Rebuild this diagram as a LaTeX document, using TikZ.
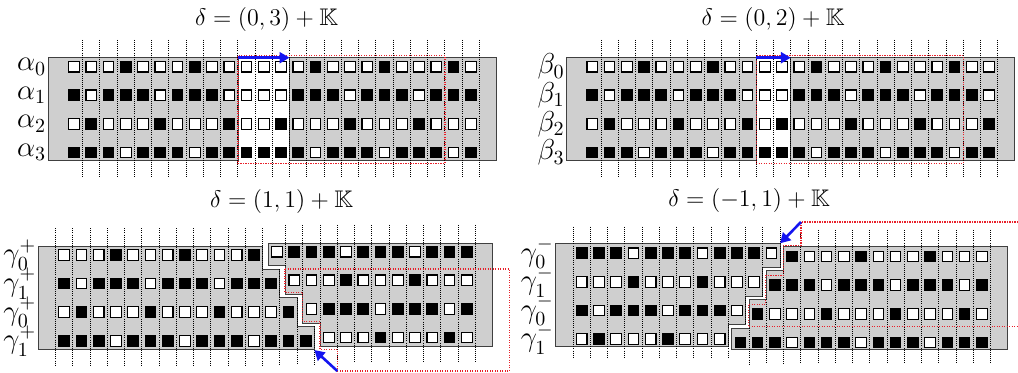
\documentclass[tikz,border=0pt]{standalone}
\usepackage{amsmath}
\usepackage{amssymb}
\usetikzlibrary{arrows.meta, positioning, calc}
\definecolor{cutred}{HTML}{E8202A}
\definecolor{moveblue}{HTML}{1414F0}

\begin{document}
\begin{tikzpicture}[
    x=0.5pt, y=-0.5pt,
    strip/.style={draw=black!75, line width=0.5pt, fill=black!19},
    guide/.style={black, line width=0.45pt, dash pattern=on 0.45pt off 0.6pt},
    c0/.style={rectangle, draw=black, fill=white, line width=0.55pt, minimum size=5.3pt, inner sep=0pt},
    c1/.style={c0, fill=black},
    cut/.style={draw=cutred, line width=0.55pt, dash pattern=on 0.55pt off 0.7pt},
    arrow/.style={-{Triangle[length=5pt, width=5.5pt]}, moveblue, line width=1.3pt},
    head/.style={font=\large},
    rowtag/.style={anchor=east, inner sep=0.5pt, font=\Large}
]
\useasboundingbox (0,0) rectangle (1018,373);

% Panel 1: alpha, delta = (0,3)
\node[head] (t-a) at (266.5,20) {$\delta=(0,3)+\mathbb{K}$};
\draw[strip] (48.3,57.7) rectangle (238,161);
\draw[strip] (289.5,57.7) rectangle (496.7,161);
\foreach \j in {0,...,23}
  \draw[guide] (82.6+17.25*\j,40) -- (82.6+17.25*\j,177);
\foreach \bits [count=\r from 0] in {
    {0,0,0,1,0,0,0,1,0,0,0,0,0,0,1,0,0,0,1,0,0,0,1,0},
    {1,0,1,1,1,0,1,1,1,0,0,0,0,1,1,1,0,1,1,1,0,1,1,1},
    {0,1,0,0,0,1,0,0,0,1,0,0,1,0,0,0,1,0,0,0,1,0,0,0},
    {1,1,1,0,1,1,1,0,1,1,1,1,1,1,0,1,1,1,0,1,1,1,0,1}}
  \foreach \b [count=\k from 0] in \bits
    \node[c\b] (a-\r-\k) at (74+17.25*\k,66.7+28.6*\r) {};
\draw[cut] (238,55.7) rectangle (445,163.3);
\coordinate (a-from) at (238,57.7);
\coordinate (a-to) at (289.5,57.7);
\draw[arrow] (a-from) -- (a-to);
\foreach \r in {0,...,3}
  \node[rowtag] (la-\r) at (47.5,66.7+28.6*\r) {$\alpha_{\r}$};

% Panel 2: beta, delta = (0,2)
\node[head] (t-b) at (773,20) {$\delta=(0,2)+\mathbb{K}$};
\draw[strip] (566.7,57.7) rectangle (756.3,161);
\draw[strip] (790.8,57.7) rectangle (1014.5,161);
\foreach \j in {0,...,23}
  \draw[guide] (601+17.25*\j,40) -- (601+17.25*\j,177);
\foreach \bits [count=\r from 0] in {
    {0,0,0,1,0,0,0,1,0,0,0,0,0,1,0,0,0,1,0,0,0,1,0,0},
    {1,0,1,1,1,0,1,1,1,0,0,0,1,1,1,0,1,1,1,0,1,1,1,0},
    {0,1,0,0,0,1,0,0,0,1,0,1,0,0,0,1,0,0,0,1,0,0,0,1},
    {1,1,1,0,1,1,1,0,1,1,1,1,1,0,1,1,1,0,1,1,1,0,1,1}}
  \foreach \b [count=\k from 0] in \bits
    \node[c\b] (b-\r-\k) at (592.3+17.25*\k,66.7+28.6*\r) {};
\draw[cut] (756.3,55.7) rectangle (963.3,163.3);
\coordinate (b-from) at (756.3,57.7);
\coordinate (b-to) at (790.8,57.7);
\draw[arrow] (b-from) -- (b-to);
\foreach \r in {0,...,3}
  \node[rowtag] (lb-\r) at (566,66.7+28.6*\r) {$\beta_{\r}$};

% Panel 3: gamma plus, delta = (1,1)
\node[head] (t-p) at (281.5,201.5) {$\delta=(1,1)+\mathbb{K}$};
\draw[strip] (38.3,246.7) -- (262.6,246.7) -- (262.6,269.3) -- (279.85,269.3)
  -- (279.85,297.9) -- (297.1,297.9) -- (297.1,326.5) -- (314.35,326.5)
  -- (314.35,350) -- (38.3,350) -- cycle;
\draw[strip] (268.4,243.4) -- (492.7,243.4) -- (492.7,346.7) -- (320.15,346.7)
  -- (320.15,323.2) -- (302.9,323.2) -- (302.9,294.6) -- (285.65,294.6)
  -- (285.65,266) -- (268.4,266) -- cycle;
\foreach \j in {0,...,12}
  \draw[guide] (55.6+17.25*\j,228.3) -- (55.6+17.25*\j,365);
\foreach \j/\y in {13/269.3,14/297.9,15/326.5}
  \draw[guide] (55.6+17.25*\j,\y) -- (55.6+17.25*\j,365);
\foreach \j/\y in {13/266,14/294.6,15/323.2}
  \draw[guide] (61.4+17.25*\j,225) -- (61.4+17.25*\j,\y);
\foreach \j in {16,...,24}
  \draw[guide] (61.4+17.25*\j,225) -- (61.4+17.25*\j,361.7);
\foreach \bits [count=\r from 0] in {
    {0,0,0,1,0,0,0,1,0,0,0,1,0,1,1,1,0,1,1,1,0,1,1,1},
    {1,0,1,1,1,0,1,1,1,0,1,1,1,0,0,0,1,0,0,0,1,0,0,0},
    {0,1,0,0,0,1,0,0,0,1,0,0,0,1,0,1,1,1,0,1,1,1,0,1},
    {1,1,1,0,1,1,1,0,1,1,1,0,1,1,1,0,0,0,1,0,0,0,1,0}}
  \foreach \b [count=\k from 0] in \bits {
    \pgfmathtruncatemacro\s{\k>=12+\r}
    \node[c\b] (p-\r-\k) at (64.2+17.25*\k+5.8*\s,255+28.6*\r-3.3*\s) {};
  }
\draw[cut] (285,269) -- (509.3,269) -- (509.3,371) -- (337.3,371) -- (337.3,349.5)
  -- (320,349.5) -- (320,321.7) -- (302.7,321.7) -- (302.7,292.3) -- (285,292.3) -- cycle;
\coordinate (p-from) at (337.3,371);
\coordinate (p-to) at (314.35,350);
\draw[arrow] (p-from) -- (p-to);
\foreach \r/\i in {0/0,1/1,2/0,3/1}
  \node[rowtag] (lp-\r) at (37.5,255+28.6*\r) {$\gamma_{\i}^{+}$};

% Panel 4: gamma minus, delta = (-1,1)
\node[head] (t-m) at (749,201) {$\delta=(-1,1)+\mathbb{K}$};
\draw[strip] (555.7,243.3) -- (780.1,243.3) -- (780.1,267.6) -- (762.85,267.6)
  -- (762.85,296.2) -- (745.6,296.2) -- (745.6,324.8) -- (728.35,324.8)
  -- (728.35,346.7) -- (555.7,346.7) -- cycle;
\draw[strip] (783.5,246.6) -- (1007.7,246.6) -- (1007.7,350) -- (731.75,350)
  -- (731.75,328.1) -- (749,328.1) -- (749,299.5) -- (766.25,299.5)
  -- (766.25,270.9) -- (783.5,270.9) -- cycle;
\foreach \j in {0,...,9}
  \draw[guide] (573.1+17.25*\j,226.7) -- (573.1+17.25*\j,358);
\foreach \j/\y in {10/324.8,11/296.2,12/267.6}
  \draw[guide] (573.1+17.25*\j,226.7) -- (573.1+17.25*\j,\y);
\foreach \j/\y in {10/328.1,11/299.5,12/270.9}
  \draw[guide] (576.5+17.25*\j,\y) -- (576.5+17.25*\j,364);
\foreach \j in {13,...,24}
  \draw[guide] (576.5+17.25*\j,230) -- (576.5+17.25*\j,364);
\foreach \bits [count=\r from 0] in {
    {1,1,1,0,1,1,1,0,1,1,1,0,1,0,0,0,1,0,0,0,1,0,0,0},
    {0,0,0,1,0,0,0,1,0,0,0,1,1,1,0,1,1,1,0,1,1,1,0,1},
    {1,0,1,1,1,0,1,1,1,0,1,0,0,0,1,0,0,0,1,0,0,0,1,0},
    {0,1,0,0,0,1,0,0,0,1,1,1,0,1,1,1,0,1,1,1,0,1,1,1}}
  \foreach \b [count=\k from 0] in \bits {
    \pgfmathtruncatemacro\s{\k>=12-\r}
    \node[c\b] (m-\r-\k) at (581.7+17.25*\k+3.4*\s,253.3+28.6*\r+3.3*\s) {};
  }
\draw[cut] (1018,222) -- (801,222) -- (801,245.5) -- (783.3,245.5) -- (783.3,275.5)
  -- (765.7,275.5) -- (765.7,304.3) -- (748.3,304.3) -- (748.3,326.5) -- (1018,326.5);
\coordinate (m-from) at (801,222);
\coordinate (m-to) at (780.1,243.3);
\draw[arrow] (m-from) -- (m-to);
\foreach \r/\i in {0/0,1/1,2/0,3/1}
  \node[rowtag] (lm-\r) at (555,253.3+28.6*\r) {$\gamma_{\i}^{-}$};

\end{tikzpicture}
\end{document}
